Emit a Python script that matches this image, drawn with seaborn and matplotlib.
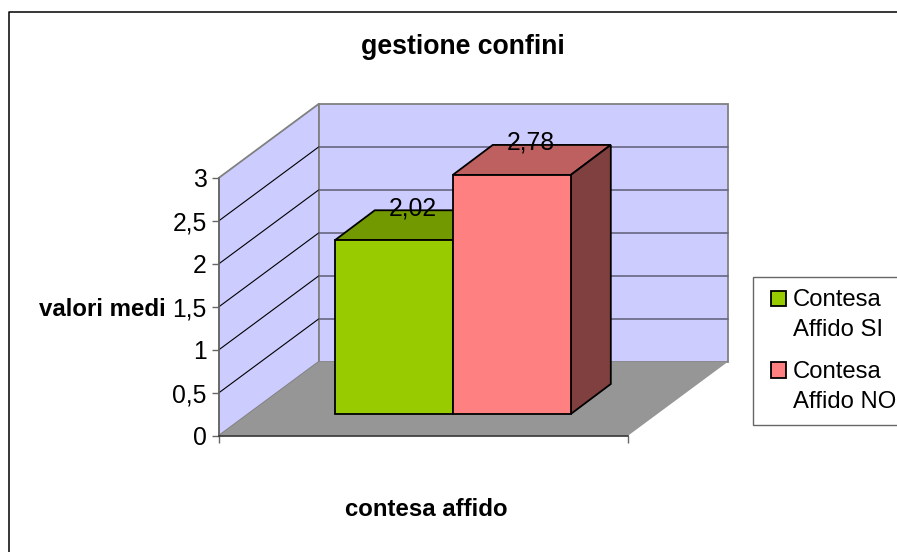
import matplotlib
matplotlib.use("Agg")
import matplotlib.pyplot as plt
from matplotlib.lines import Line2D
from matplotlib.patches import Polygon
import pandas as pd
import seaborn as sns

# Data
categorie = ["contesa affido"]
serie = ["Contesa\nAffido SI", "Contesa\nAffido NO"]
valori = [2.02, 2.78]
etichette = ["2,02", "2,78"]
tick_y = [0, 0.5, 1, 1.5, 2, 2.5, 3]
tick_y_label = ["0", "0,5", "1", "1,5", "2", "2,5", "3"]

colori = ["#99CC00", "#FF8080"]
colori_top = ["#739900", "#BF6060"]
colori_lato = ["#4D6600", "#804040"]

df = pd.DataFrame({"contesa": categorie * 2, "serie": serie, "valore": valori})

sns.set_style("white")
plt.rcParams["font.family"] = ["Liberation Sans", "DejaVu Sans"]
plt.rcParams["text.color"] = "black"
plt.rcParams["axes.labelcolor"] = "black"
plt.rcParams["xtick.color"] = "black"
plt.rcParams["ytick.color"] = "black"

W, H = 897, 552
FS = 17.8
FS_LEG = 17.2
fig = plt.figure(figsize=(W / 100, H / 100), dpi=100)


def box(left, top, right, bottom):
    return [left / W, 1 - bottom / H, (right - left) / W, (bottom - top) / H]


# front plane of the chart: y axis and floor edge
ax = fig.add_axes(box(219, 177.7, 628, 435.7))
ax.set_xlim(-0.5, 0.5)
ax.set_ylim(0, 3)
px_x = 1 / 409
px_y = 3 / 258
back_x = 100 * px_x
back_y = 74 * px_y

ax.patch.set_visible(False)
pareti = dict(clip_on=False, zorder=1)
# side wall, back wall, floor
ax.add_patch(Polygon([(-0.5, 0), (-0.5, 3), (-0.5 + back_x, 3 + back_y), (-0.5 + back_x, back_y)],
                     facecolor="#CCCCFF", edgecolor="#808080", linewidth=1.3, **pareti))
ax.add_patch(Polygon([(-0.5 + back_x, back_y), (-0.5 + back_x, 3 + back_y),
                      (0.5 + back_x, 3 + back_y), (0.5 + back_x, back_y)],
                     facecolor="#CCCCFF", edgecolor="#808080", linewidth=1.3, **pareti))
ax.add_patch(Polygon([(-0.5, 0), (0.5, 0), (0.5 + back_x, back_y), (-0.5 + back_x, back_y)],
                     facecolor="#969696", edgecolor="none", **pareti))
for v in tick_y[1:-1]:
    ax.plot([-0.5, -0.5 + back_x], [v, v + back_y], color="black", lw=0.8, clip_on=False, zorder=2)
    ax.plot([-0.5 + back_x, 0.5 + back_x], [v + back_y, v + back_y], color="#666680", lw=1.2,
            clip_on=False, zorder=2)

ax.set_yticks(tick_y)
ax.set_yticklabels(tick_y_label, fontsize=FS)
ax.set_xticks([-0.5, 0.5])
ax.set_xticklabels(["", ""])
ax.tick_params(axis="both", length=5, width=1, color="#666666", pad=4, left=True, bottom=True)
sns.despine(ax=ax)
ax.spines["left"].set_color("#666666")
ax.spines["left"].set_linewidth(1.2)
ax.spines["bottom"].set_color("#333333")
ax.spines["bottom"].set_linewidth(1.2)
ax.spines["left"].set_zorder(5)
ax.spines["bottom"].set_zorder(5)

# bars stand a bit behind the front plane, so they get their own axes
ax_bar = fig.add_axes(box(248.3, 156, 657.3, 414))
sns.barplot(data=df, x="contesa", y="valore", hue="serie", palette=colori, hue_order=serie,
            width=0.577, gap=0, saturation=1, edgecolor="black", linewidth=1.3, ax=ax_bar)
ax_bar.set_xlim(-0.5, 0.5)
ax_bar.set_ylim(0, 3)
ax_bar.axis("off")

dx = 40 * px_x
dy = 30 * px_y
for i, bar in enumerate(ax_bar.containers):
    rect = bar[0]
    x0, x1 = rect.get_x(), rect.get_x() + rect.get_width()
    h = rect.get_height()
    rect.set_zorder(4)
    rect.set_clip_on(False)
    ax_bar.add_patch(Polygon([(x0, h), (x1, h), (x1 + dx, h + dy), (x0 + dx, h + dy)],
                             facecolor=colori_top[i], edgecolor="black", linewidth=1.3,
                             clip_on=False, zorder=3))
    ax_bar.add_patch(Polygon([(x1, 0), (x1, h), (x1 + dx, h + dy), (x1 + dx, dy)],
                             facecolor=colori_lato[i], edgecolor="black", linewidth=1.3,
                             clip_on=False, zorder=3))
    ax_bar.annotate(etichette[i], ((x0 + x1) / 2, h), xytext=(14, 23), textcoords="offset points",
                    ha="center", va="center", fontsize=FS, zorder=6)

handles, labels = ax_bar.get_legend_handles_labels()
leg = ax_bar.legend(handles, labels, loc="upper left", bbox_to_anchor=(752.7 / W, 1 - 277.3 / H),
                    bbox_transform=fig.transFigure, fontsize=FS_LEG, frameon=True, fancybox=False,
                    framealpha=1, edgecolor="#666666", borderpad=0.5, borderaxespad=0,
                    handlelength=0.88, handleheight=0.6, handletextpad=0.3, labelspacing=0.8,
                    title=None)
leg.get_frame().set_linewidth(1)
for text in leg.get_texts():
    text.set_linespacing(1.48)
# swatch sits next to the first line of its label
for handle in leg.legend_handles:
    handle.set_x(handle.get_x() + 4.5)
    handle.set_width(10.8)
    handle.set_y(handle.get_y() + 12)
    handle.set_linewidth(1.3)
    handle.set_edgecolor("black")

fig.text(463 / W, 1 - 47 / H, "gestione confini", ha="center", va="center", fontsize=19.2, fontweight="bold")
fig.text(426 / W, 1 - 510 / H, "contesa affido", ha="center", va="center", fontsize=17.3, fontweight="bold")
fig.text(102 / W, 1 - 309 / H, "valori medi", ha="center", va="center", fontsize=17.3, fontweight="bold")

# outer chart frame, only left and top fall inside the picture
fig.add_artist(Line2D([8.5 / W, 8.5 / W, 1], [0, 1 - 12 / H, 1 - 12 / H], color="black", lw=1.1))

fig.savefig("out.png", dpi=100)
